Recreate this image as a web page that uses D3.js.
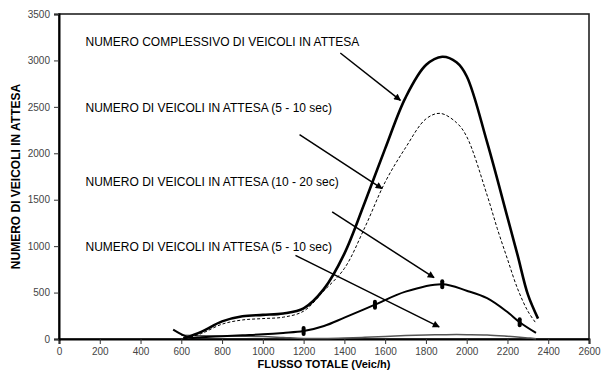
<!DOCTYPE html>
<html>
<head>
<meta charset="utf-8">
<script src="https://cdn.jsdelivr.net/npm/d3@7"></script>
<style>
  body { margin: 0; background: #fff; }
  svg { display: block; font-family: "Liberation Sans", Arial, sans-serif; }
</style>
</head>
<body>
<div id="chart"></div>
<script>
// x values (veic/h) and waiting vehicles
var totaleX = [610, 700, 800, 900, 1000, 1100, 1200, 1300, 1400, 1500, 1600, 1700, 1800, 1880, 1950, 2000, 2100, 2200, 2250, 2300, 2350];
var totaleY = [5, 80, 190, 245, 260, 275, 330, 540, 920, 1470, 2050, 2600, 2950, 3040, 2980, 2830, 2120, 1310, 900, 480, 220];

var breveX = [620, 700, 800, 900, 1000, 1100, 1200, 1300, 1400, 1500, 1600, 1700, 1800, 1870, 1950, 2000, 2100, 2150, 2200, 2250, 2300, 2340];
var breveY = [5, 60, 160, 205, 220, 235, 300, 520, 760, 1200, 1690, 2060, 2370, 2430, 2330, 2180, 1550, 1190, 860, 540, 300, 170];

var medioX = [560, 640, 700, 800, 900, 1000, 1100, 1200, 1300, 1400, 1550, 1700, 1880, 2000, 2100, 2200, 2260, 2340];
var medioY = [100, 15, 20, 30, 40, 50, 65, 85, 140, 230, 370, 510, 590, 520, 440, 290, 180, 65];
var medioMarkers = [1200, 1550, 1880, 2260];

var lungoX = [600, 700, 800, 900, 1000, 1100, 1200, 1300, 1400, 1500, 1600, 1700, 1800, 1900, 2000, 2100, 2200, 2300, 2340];
var lungoY = [40, 35, 32, 30, 26, 16, 6, 5, 10, 18, 28, 38, 44, 47, 47, 44, 30, 12, 4];

var xTicks = d3.range(0, 2601, 200);
var yTicks = d3.range(0, 3501, 500);

// annotation labels with arrow start/end in data units
var labels = [
  { text: "NUMERO COMPLESSIVO DI VEICOLI IN ATTESA", x: 130, y: 3205, from: [1380, 3080], to: [1675, 2570] },
  { text: "NUMERO DI VEICOLI IN ATTESA (5 - 10 sec)", x: 130, y: 2495, from: [1180, 2200], to: [1585, 1620] },
  { text: "NUMERO DI VEICOLI IN ATTESA (10 - 20 sec)", x: 130, y: 1690, from: [1340, 1370], to: [1840, 660] },
  { text: "NUMERO DI VEICOLI IN ATTESA (5 - 10 sec)", x: 130, y: 995, from: [1160, 900], to: [1865, 130] }
];

var width = 612, height = 372;
var margin = { top: 14, right: 23, bottom: 33, left: 59 };
var w = width - margin.left - margin.right,
    h = height - margin.top - margin.bottom;

var svg = d3.select("#chart").append("svg")
    .attr("width", width)
    .attr("height", height);

var defs = svg.append("defs");
defs.append("marker")
    .attr("id", "arrow")
    .attr("viewBox", "0 0 10 10")
    .attr("refX", 9).attr("refY", 5)
    .attr("markerWidth", 9).attr("markerHeight", 7)
    .attr("markerUnits", "userSpaceOnUse")
    .attr("orient", "auto")
    .append("path")
    .attr("d", "M0,0 L10,5 L0,10 z")
    .attr("fill", "#000");

var g = svg.append("g")
    .attr("transform", "translate(" + margin.left + "," + margin.top + ")");

var x = d3.scaleLinear().domain([0, 2600]).range([0, w]);
var y = d3.scaleLinear().domain([0, 3500]).range([h, 0]);

// plot border
g.append("rect")
    .attr("x", 0).attr("y", 0)
    .attr("width", w).attr("height", h)
    .attr("fill", "none")
    .attr("stroke", "#222")
    .attr("stroke-width", 1.6);

var xAxis = g.append("g")
    .attr("transform", "translate(0," + h + ")")
    .call(d3.axisBottom(x).tickValues(xTicks).tickFormat(d3.format("d")).tickSize(5).tickPadding(4));
var yAxis = g.append("g")
    .call(d3.axisLeft(y).tickValues(yTicks).tickFormat(d3.format("d")).tickSize(5).tickPadding(4));

[xAxis, yAxis].forEach(function(a) {
  a.select(".domain").attr("stroke", "#000").attr("stroke-width", 2);
  a.selectAll(".tick line").attr("stroke", "#333");
  a.selectAll(".tick text")
    .attr("fill", "#444")
    .style("font-size", "10px")
    .style("font-family", "'Liberation Sans', Arial, sans-serif");
});

var line = d3.line()
    .x(function(d) { return x(d[0]); })
    .y(function(d) { return y(d[1]); })
    .curve(d3.curveCatmullRom.alpha(0.5));

function pairs(xs, ys) {
  return xs.map(function(v, i) { return [v, ys[i]]; });
}

g.append("path")
    .datum(pairs(lungoX, lungoY))
    .attr("d", line)
    .attr("fill", "none")
    .attr("stroke", "#555")
    .attr("stroke-width", 1.5);

g.append("path")
    .datum(pairs(medioX, medioY))
    .attr("d", line)
    .attr("fill", "none")
    .attr("stroke", "#000")
    .attr("stroke-width", 2);

g.append("path")
    .datum(pairs(breveX, breveY))
    .attr("d", line)
    .attr("fill", "none")
    .attr("stroke", "#000")
    .attr("stroke-width", 1)
    .attr("stroke-dasharray", "3,2");

g.append("path")
    .datum(pairs(totaleX, totaleY))
    .attr("d", line)
    .attr("fill", "none")
    .attr("stroke", "#000")
    .attr("stroke-width", 2.6);

// dash markers on the 10-20 sec series
g.selectAll(".mk")
    .data(medioMarkers)
    .enter().append("rect")
    .attr("class", "mk")
    .attr("x", function(d) { return x(d) - 2; })
    .attr("y", function(d) { return y(medioY[medioX.indexOf(d)]) - 5; })
    .attr("width", 4)
    .attr("height", 10)
    .attr("rx", 2)
    .attr("fill", "#000");

// annotations
g.selectAll(".lbl")
    .data(labels)
    .enter().append("text")
    .attr("class", "lbl")
    .attr("x", function(d) { return x(d.x); })
    .attr("y", function(d) { return y(d.y); })
    .attr("dy", "0.35em")
    .style("font-size", "12px")
    .attr("fill", "#000")
    .text(function(d) { return d.text; });

g.selectAll(".arr")
    .data(labels)
    .enter().append("line")
    .attr("class", "arr")
    .attr("x1", function(d) { return x(d.from[0]); })
    .attr("y1", function(d) { return y(d.from[1]); })
    .attr("x2", function(d) { return x(d.to[0]); })
    .attr("y2", function(d) { return y(d.to[1]); })
    .attr("stroke", "#000")
    .attr("stroke-width", 1.5)
    .attr("marker-end", "url(#arrow)");

// axis titles
svg.append("text")
    .attr("x", margin.left + w / 2)
    .attr("y", 368)
    .attr("text-anchor", "middle")
    .style("font-size", "11px")
    .style("font-weight", "bold")
    .text("FLUSSO TOTALE (Veic/h)");

svg.append("text")
    .attr("transform", "translate(20," + (margin.top + h / 2) + ") rotate(-90)")
    .attr("text-anchor", "middle")
    .style("font-size", "12px")
    .style("font-weight", "bold")
    .text("NUMERO DI VEICOLI IN ATTESA");
</script>
</body>
</html>
